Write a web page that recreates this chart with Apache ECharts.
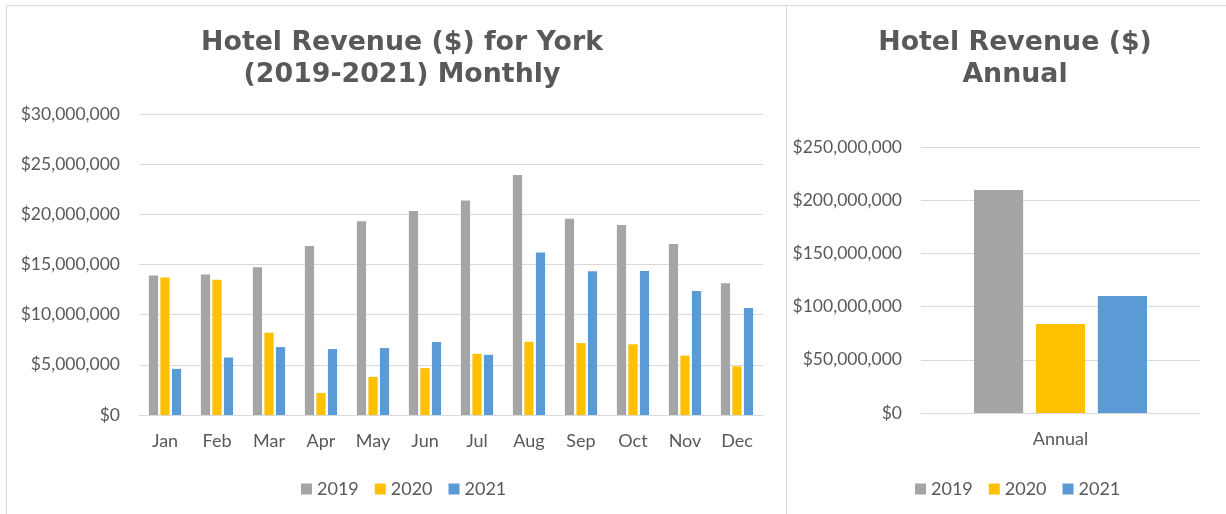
<!DOCTYPE html>
<html>
<head>
<meta charset="utf-8">
<script src="https://cdn.jsdelivr.net/npm/echarts@6/dist/echarts.min.js"></script>
<style>
  html, body { margin: 0; padding: 0; background: #fff; }
  #chart { width: 1226px; height: 514px; }
</style>
</head>
<body>
<div id="chart"></div>
<script>
// monthly revenue (dollars)
const months = ['Jan', 'Feb', 'Mar', 'Apr', 'May', 'Jun', 'Jul', 'Aug', 'Sep', 'Oct', 'Nov', 'Dec'];
const rev2019 = [13900000, 14000000, 14730000, 16850000, 19300000, 20340000, 21370000, 23930000, 19570000, 18940000, 17050000, 13130000];
const rev2020 = [13700000, 13470000, 8200000, 2200000, 3800000, 4670000, 6100000, 7300000, 7170000, 7050000, 5920000, 4850000];
const rev2021 = [4600000, 5730000, 6770000, 6570000, 6670000, 7270000, 6000000, 16200000, 14330000, 14360000, 12360000, 10670000];

// annual totals
const annualCategories = ['Annual'];
const annual2019 = [209600000];
const annual2020 = [83700000];
const annual2021 = [110000000];

const years = ['2019', '2020', '2021'];
const colors = ['#a5a5a5', '#ffc000', '#5b9bd5'];

const textColor = '#595959';
const gridColor = '#d9d9d9';
const labelFont = 'Lato';

const money = v => '$' + v.toLocaleString('en-US');

function valueAxis(gridIndex, max, interval) {
    return {
        type: 'value',
        gridIndex: gridIndex,
        min: 0,
        max: max,
        interval: interval,
        axisLine: { show: false },
        axisTick: { show: false },
        splitLine: { lineStyle: { color: gridColor, width: 1 } },
        axisLabel: {
            color: textColor,
            fontFamily: labelFont,
            fontSize: 17.5,
            margin: 19,
            formatter: money
        }
    };
}

function categoryAxis(gridIndex, data) {
    return {
        type: 'category',
        gridIndex: gridIndex,
        data: data,
        axisLine: { lineStyle: { color: gridColor, width: 1 } },
        axisTick: { show: false },
        axisLabel: {
            color: textColor,
            fontFamily: labelFont,
            fontSize: 18,
            margin: 17
        }
    };
}

const monthlySeries = [rev2019, rev2020, rev2021].map((vals, i) => ({
    name: years[i],
    type: 'bar',
    xAxisIndex: 0,
    yAxisIndex: 0,
    data: vals,
    itemStyle: { color: colors[i] },
    barGap: '25%',
    barCategoryGap: '38%'
}));

const annualSeries = [annual2019, annual2020, annual2021].map((vals, i) => ({
    name: years[i],
    type: 'bar',
    xAxisIndex: 1,
    yAxisIndex: 1,
    data: vals,
    itemStyle: { color: colors[i] },
    barGap: '26%',
    barCategoryGap: '38%'
}));

const titleStyle = {
    color: textColor,
    fontFamily: 'DejaVu Sans',
    fontWeight: 'bold',
    fontSize: 26.8,
    lineHeight: 32
};

const legendBase = {
    data: years,
    icon: 'rect',
    itemWidth: 11,
    itemHeight: 11,
    itemGap: 16,
    top: 475,
    textStyle: { color: textColor, fontFamily: labelFont, fontSize: 18 }
};

const option = {
    animation: false,
    backgroundColor: '#fff',
    title: [
        {
            text: 'Hotel Revenue ($) for York\n(2019-2021) Monthly',
            left: 397,
            top: 22,
            textAlign: 'center',
            textStyle: titleStyle
        },
        {
            text: 'Hotel Revenue ($)\nAnnual',
            left: 1010,
            top: 22,
            textAlign: 'center',
            textStyle: titleStyle
        }
    ],
    legend: [
        Object.assign({ left: 296 }, legendBase),
        Object.assign({ left: 910 }, legendBase)
    ],
    grid: [
        { left: 139, top: 114, width: 624, height: 301 },
        { left: 921, top: 147, width: 279, height: 266 }
    ],
    xAxis: [categoryAxis(0, months), categoryAxis(1, annualCategories)],
    yAxis: [valueAxis(0, 30000000, 5000000), valueAxis(1, 250000000, 50000000)],
    series: monthlySeries.concat(annualSeries),
    graphic: [
        {
            type: 'rect',
            shape: { x: 6.5, y: 5.5, width: 780, height: 520 },
            style: { fill: 'none', stroke: gridColor, lineWidth: 1 },
            silent: true
        },
        {
            type: 'rect',
            shape: { x: 786.5, y: 5.5, width: 460, height: 520 },
            style: { fill: 'none', stroke: gridColor, lineWidth: 1 },
            silent: true
        }
    ]
};

const chart = echarts.init(document.getElementById('chart'));
chart.setOption(option);
</script>
</body>
</html>
